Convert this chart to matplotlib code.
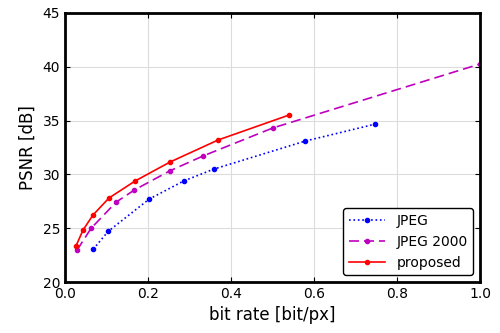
import matplotlib
matplotlib.use('Agg')
import matplotlib.pyplot as plt

# JPEG
jpeg_x = [0.068, 0.104, 0.203, 0.286, 0.359, 0.579, 0.747]
jpeg_y = [23.05, 24.71, 27.71, 29.39, 30.5, 33.1, 34.67]
# JPEG 2000
j2k_x = [0.029, 0.063, 0.123, 0.167, 0.252, 0.333, 0.501, 1.0]
j2k_y = [22.97, 25.0, 27.42, 28.55, 30.32, 31.72, 34.32, 40.26]
# proposed
prop_x = [0.0265, 0.0434, 0.0675, 0.106, 0.169, 0.253, 0.369, 0.540]
prop_y = [23.35, 24.83, 26.23, 27.81, 29.39, 31.15, 33.2, 35.52]

fig = plt.figure(figsize=(5, 3.33), dpi=100)
ax = fig.add_axes([0.13, 0.153, 0.83, 0.808])

ax.plot(jpeg_x, jpeg_y, 'b.:', markersize=6, linewidth=1.2, label='JPEG')
ax.plot(j2k_x, j2k_y, 'm.--', markersize=6, linewidth=1.2, dashes=(6, 3), label='JPEG 2000')
ax.plot(prop_x, prop_y, 'r.-', markersize=6, linewidth=1.2, label='proposed')

ax.set_xlim(0, 1.0)
ax.set_ylim(20, 45)
ax.set_xticks([0, 0.2, 0.4, 0.6, 0.8, 1.0])
ax.set_xticklabels(['0.0', '0.2', '0.4', '0.6', '0.8', '1.0'])
ax.set_yticks([20, 25, 30, 35, 40, 45])
ax.grid(True, color='#dcdcdc', linewidth=0.8)
ax.tick_params(direction='in', top=True, right=True, labelsize=10)
for s in ax.spines.values():
    s.set_linewidth(2)
ax.set_xlabel('bit rate [bit/px]', fontsize=12)
ax.set_ylabel('PSNR [dB]', fontsize=12)
leg = ax.legend(loc='lower right', fontsize=10, framealpha=1, handlelength=2.6)
leg.get_frame().set_edgecolor('black')

fig.savefig('out.png')
